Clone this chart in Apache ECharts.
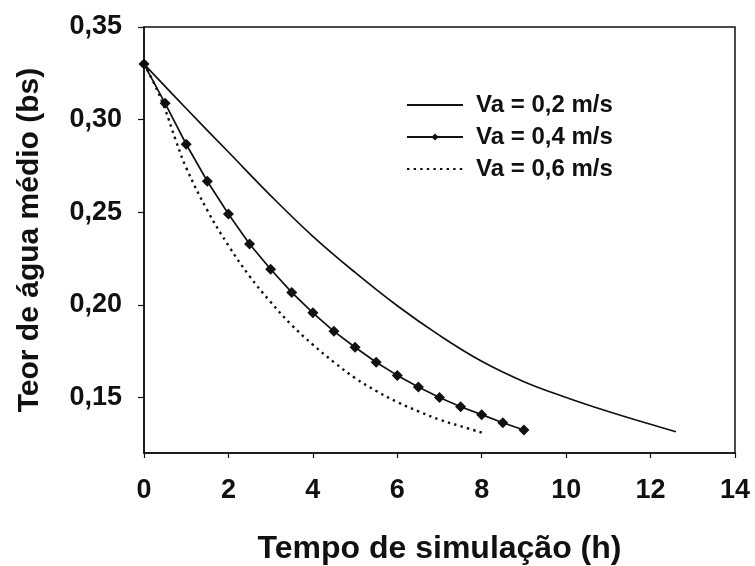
<!DOCTYPE html>
<html>
<head>
<meta charset="utf-8">
<script src="https://cdn.jsdelivr.net/npm/echarts@6/dist/echarts.min.js"></script>
<style>
  html, body { margin: 0; padding: 0; background: #fff; }
  #chart { width: 755px; height: 566px; }
</style>
</head>
<body>
<div id="chart"></div>
<script>
// Va = 0,2 m/s (solid line)
const tA = [0, 1, 2, 3, 4, 5, 6, 7, 8, 9, 10, 11, 12, 12.6];
const vA = [0.330, 0.306, 0.2825, 0.259, 0.237, 0.2175, 0.1995, 0.1835, 0.1695, 0.1585, 0.1500, 0.1424, 0.1355, 0.1315];

// Va = 0,4 m/s (line with diamonds)
const tB = [0, 0.5, 1, 1.5, 2, 2.5, 3, 3.5, 4, 4.5, 5, 5.5, 6, 6.5, 7, 7.5, 8, 8.5, 9];
const vB = [0.330, 0.3088, 0.2867, 0.2667, 0.249, 0.2328, 0.2192, 0.2067, 0.1957, 0.1857, 0.1771, 0.169, 0.1619, 0.1556, 0.150, 0.145, 0.1407, 0.1363, 0.1324];

// Va = 0,6 m/s (dotted line)
const tC = [0, 0.25, 0.5, 0.75, 1, 1.5, 2, 2.5, 3, 3.5, 4, 4.5, 5, 5.5, 6, 6.5, 7, 7.5, 8];
const vC = [0.330, 0.319, 0.3055, 0.289, 0.274, 0.251, 0.232, 0.2155, 0.2015, 0.189, 0.1785, 0.169, 0.1605, 0.1535, 0.1475, 0.1425, 0.138, 0.1345, 0.131];

const seriesNames = ['Va = 0,2 m/s', 'Va = 0,4 m/s', 'Va = 0,6 m/s'];
const yTicks = [0.15, 0.20, 0.25, 0.30, 0.35];
const xTitle = 'Tempo de simulação (h)';
const yTitle = 'Teor de água médio (bs)';

const pairs = (t, v) => t.map((x, i) => [x, v[i]]);
const FONT = '"Liberation Sans", Arial, sans-serif';
const INK = '#111';

const chart = echarts.init(document.getElementById('chart'), null, { renderer: 'canvas' });
chart.setOption({
  animation: false,
  backgroundColor: '#fff',
  grid: {
    left: 144, right: 20, top: 27, bottom: 113,
    containLabel: false, outerBoundsMode: 'none',
    show: true, borderColor: INK, borderWidth: 1.5, backgroundColor: 'transparent'
  },
  legend: {
    orient: 'vertical',
    left: 401, top: 88,
    itemWidth: 56, itemHeight: 9, itemGap: 8,
    data: [
      { name: seriesNames[0], itemStyle: { opacity: 0 } },
      { name: seriesNames[1] },
      { name: seriesNames[2], itemStyle: { opacity: 0 } }
    ],
    textStyle: { fontFamily: FONT, fontWeight: 'bold', fontSize: 24, color: INK, lineHeight: 24, padding: [0, 0, 0, 8] }
  },
  xAxis: {
    type: 'value', min: 0, max: 14, interval: 2,
    name: xTitle, nameLocation: 'middle', nameGap: 80,
    nameTextStyle: { fontFamily: FONT, fontWeight: 'bold', fontSize: 32, color: INK },
    axisLine: { show: true, lineStyle: { color: INK, width: 1.5 } },
    axisTick: { show: true, inside: false, length: 5, lineStyle: { color: INK, width: 1.2 } },
    axisLabel: { margin: 24, fontFamily: FONT, fontWeight: 'bold', fontSize: 27, color: INK },
    splitLine: { show: false }
  },
  yAxis: {
    type: 'value', min: 0.12, max: 0.35,
    name: yTitle, nameLocation: 'middle', nameGap: 99, nameRotate: 90,
    nameTextStyle: { fontFamily: FONT, fontWeight: 'bold', fontSize: 30, color: INK },
    axisLine: { show: true, lineStyle: { color: INK, width: 1.5 } },
    axisTick: { show: true, inside: false, length: 6, customValues: yTicks, lineStyle: { color: INK, width: 1.2 } },
    axisLabel: {
      margin: 22, fontFamily: FONT, fontWeight: 'bold', fontSize: 27, color: INK,
      customValues: yTicks,
      formatter: v => v.toFixed(2).replace('.', ',')
    },
    splitLine: { show: false }
  },
  series: [
    {
      name: seriesNames[0], type: 'line', data: pairs(tA, vA),
      smooth: 0.4, symbol: 'none',
      lineStyle: { color: INK, width: 1.7 }, itemStyle: { color: INK }
    },
    {
      name: seriesNames[1], type: 'line', data: pairs(tB, vB),
      smooth: false, symbol: 'diamond', symbolSize: 11, showSymbol: true,
      lineStyle: { color: INK, width: 1.7 }, itemStyle: { color: INK }
    },
    {
      name: seriesNames[2], type: 'line', data: pairs(tC, vC),
      smooth: 0.4, symbol: 'none',
      lineStyle: { color: INK, width: 2.4, type: [2.4, 4.2] }, itemStyle: { color: INK }
    }
  ]
});
</script>
</body>
</html>
